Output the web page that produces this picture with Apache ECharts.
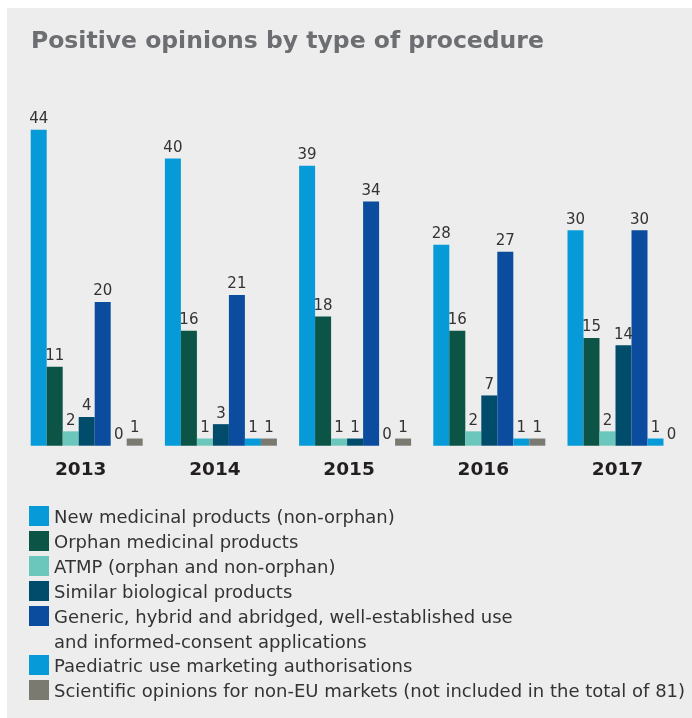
<!DOCTYPE html>
<html>
<head>
<meta charset="utf-8">
<script src="https://cdn.jsdelivr.net/npm/echarts@6/dist/echarts.min.js"></script>
<style>
  html, body { margin: 0; padding: 0; background: #fff; }
  #chart { width: 692px; height: 718px; }
</style>
</head>
<body>
<div id="chart"></div>
<script>
(function () {
    const years = ['2013', '2014', '2015', '2016', '2017'];

    const seriesNames = [
        'New medicinal products (non-orphan)',
        'Orphan medicinal products',
        'ATMP (orphan and non-orphan)',
        'Similar biological products',
        'Generic, hybrid and abridged, well-established use\nand informed-consent applications',
        'Paediatric use marketing authorisations',
        'Scientific opinions for non-EU markets (not included in the total of 81)'
    ];
    const colors = ['#069bd8', '#0b5446', '#6bc6bc', '#014b6b', '#0b4c9f', '#069bd8', '#7b7a71'];

    const newMedicinal = [44, 40, 39, 28, 30];
    const orphan = [11, 16, 18, 16, 15];
    const atmp = [2, 1, 1, 2, 2];
    const similarBio = [4, 3, 1, 7, 14];
    const generic = [20, 21, 34, 27, 30];
    const paediatric = [0, 1, 0, 1, 1];
    const nonEu = [1, 1, 1, 1, 0];

    const values = [newMedicinal, orphan, atmp, similarBio, generic, paediatric, nonEu];

    const font = 'DejaVu Sans';

    const series = values.map(function (data, i) {
        return {
            name: seriesNames[i],
            type: 'bar',
            barWidth: 16,
            barGap: '0%',
            itemStyle: { color: colors[i] },
            label: {
                show: true,
                position: 'top',
                distance: 3,
                fontFamily: font,
                fontSize: 15,
                color: '#333'
            },
            data: data
        };
    });

    const legendText = { fontFamily: font, fontSize: 18, color: '#333', lineHeight: 20 };
    // square sits in the top of a 20x25 box, so the text lands a bit lower
    const legendIcon = 'path://M0,0H20V20H0Z M20,25';
    // the long legend entry is split: first line in the legend, second line under it
    const genericLines = seriesNames[4].split('\n');

    const option = {
        animation: false,
        backgroundColor: '#fff',
        graphic: [
            {
                type: 'rect',
                silent: true,
                z: -10,
                shape: { x: 7, y: 8, width: 685, height: 710 },
                style: { fill: '#ededed' }
            },
            {
                type: 'text',
                silent: true,
                x: 54,
                y: 643,
                style: {
                    text: genericLines[1],
                    font: '18px "DejaVu Sans"',
                    fill: '#333',
                    verticalAlign: 'middle'
                }
            }
        ],
        title: {
            text: 'Positive opinions by type of procedure',
            left: 31,
            top: 29.5,
            padding: 0,
            textStyle: {
                fontFamily: font,
                fontSize: 23.5,
                fontWeight: 'bold',
                color: '#6d6e71'
            }
        },
        legend: [
            {
                orient: 'vertical',
                left: 29,
                top: 506,
                padding: 0,
                itemWidth: 20,
                itemHeight: 25,
                itemGap: 0,
                icon: legendIcon,
                selectedMode: false,
                textStyle: legendText,
                formatter: function (name) {
                    return name.split('\n')[0];
                },
                data: seriesNames.slice(0, 5)
            },
            {
                orient: 'vertical',
                left: 29,
                top: 655,
                padding: 0,
                itemWidth: 20,
                itemHeight: 25,
                itemGap: 0,
                icon: legendIcon,
                selectedMode: false,
                textStyle: legendText,
                data: seriesNames.slice(5)
            }
        ],
        grid: {
            left: 19.6,
            right: 1.4,
            top: 86.7,
            bottom: 272.3
        },
        xAxis: {
            type: 'category',
            data: years,
            axisLine: { show: false },
            axisTick: { show: false },
            axisLabel: {
                margin: 15,
                padding: [0, 12, 0, 0],
                fontFamily: font,
                fontSize: 18.5,
                fontWeight: 'bold',
                color: '#231f20'
            }
        },
        yAxis: {
            type: 'value',
            min: 0,
            max: 50,
            show: false,
            splitLine: { show: false }
        },
        series: series
    };

    const myChart = echarts.init(document.getElementById('chart'));
    myChart.setOption(option);
}());
</script>
</body>
</html>
